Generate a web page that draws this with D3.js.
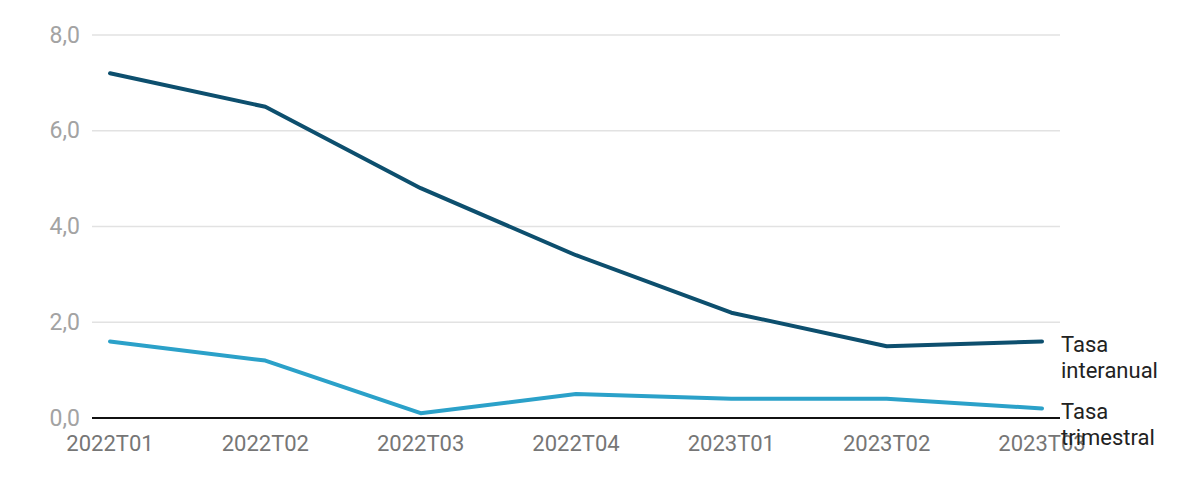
<!DOCTYPE html>
<html>
<head>
<meta charset="utf-8">
<script src="https://cdn.jsdelivr.net/npm/d3@7"></script>
<style>
  body { margin: 0; background: #fff; font-family: Roboto, "Noto Sans", sans-serif; }
</style>
</head>
<body>
<div id="chart"></div>
<script>
const quarters = ['2022T01', '2022T02', '2022T03', '2022T04', '2023T01', '2023T02', '2023T03'];
const interanual = [7.2, 6.5, 4.8, 3.4, 2.2, 1.5, 1.6];
const trimestral = [1.6, 1.2, 0.1, 0.5, 0.4, 0.4, 0.2];
const yTicks = [0, 2, 4, 6, 8];

const width = 1200;
const height = 500;

const series = [
    { name: ['Tasa', 'interanual'], values: interanual, color: '#0d4f6e' },
    { name: ['Tasa', 'trimestral'], values: trimestral, color: '#2ba1c9' },
];

const svg = d3.select('#chart')
    .append('svg')
    .attr('width', width)
    .attr('height', height);

const plot = { left: 92, right: 1060, top: 35, bottom: 418 };

const xScale = d3.scalePoint()
    .domain(quarters)
    .range([110, 1042]);

const yScale = d3.scaleLinear()
    .domain([0, 8])
    .range([plot.bottom, plot.top]);

const fmt = (d) => d.toFixed(1).replace('.', ',');

// gridlines
svg.append('g')
    .selectAll('line')
    .data(yTicks.filter((d) => d > 0))
    .join('line')
    .attr('x1', plot.left)
    .attr('x2', plot.right)
    .attr('y1', (d) => yScale(d))
    .attr('y2', (d) => yScale(d))
    .attr('stroke', '#e2e2e2')
    .attr('stroke-width', 1.5);

// y labels
svg.append('g')
    .selectAll('text')
    .data(yTicks)
    .join('text')
    .attr('x', 80)
    .attr('y', (d) => yScale(d))
    .attr('text-anchor', 'end')
    .attr('dominant-baseline', 'central')
    .attr('fill', '#a3a3a3')
    .style('font-size', '23px')
    .text(fmt);

// x labels
svg.append('g')
    .selectAll('text')
    .data(quarters)
    .join('text')
    .attr('x', (d) => xScale(d))
    .attr('y', 451)
    .attr('text-anchor', 'middle')
    .attr('fill', '#767676')
    .style('font-size', '22px')
    .text((d) => d);

// zero line
svg.append('line')
    .attr('x1', plot.left)
    .attr('x2', plot.right)
    .attr('y1', yScale(0))
    .attr('y2', yScale(0))
    .attr('stroke', '#111')
    .attr('stroke-width', 2);

const line = d3.line()
    .x((d, i) => xScale(quarters[i]))
    .y((d) => yScale(d));

series.forEach((s) => {
    svg.append('path')
        .datum(s.values)
        .attr('fill', 'none')
        .attr('stroke', s.color)
        .attr('stroke-width', 4)
        .attr('stroke-linejoin', 'round')
        .attr('stroke-linecap', 'round')
        .attr('d', line);

    const last = s.values[s.values.length - 1];
    const label = svg.append('text')
        .attr('x', 1061)
        .attr('y', yScale(last) + 11)
        .attr('fill', '#222')
        .style('font-size', '22px');
    label.selectAll('tspan')
        .data(s.name)
        .join('tspan')
        .attr('x', 1061)
        .attr('dy', (d, i) => (i === 0 ? 0 : 26))
        .text((d) => d);
});
</script>
</body>
</html>
